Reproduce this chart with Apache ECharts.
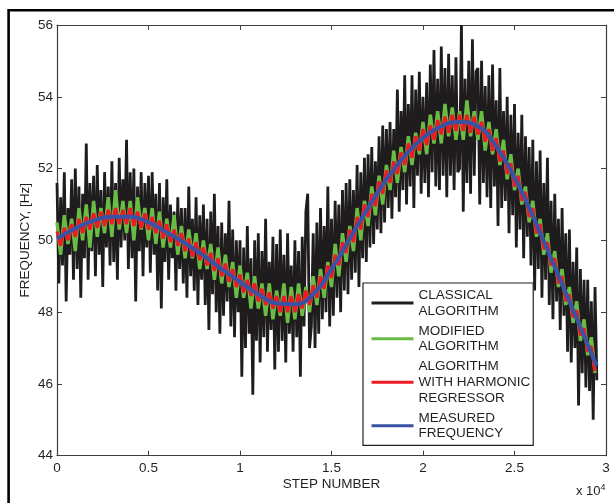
<!DOCTYPE html>
<html>
<head>
<meta charset="utf-8">
<script src="https://cdn.jsdelivr.net/npm/echarts@6/dist/echarts.min.js"></script>
<style>html,body{margin:0;padding:0;background:#fff;}#c{width:614px;height:503px;}</style>
</head>
<body>
<div id="c"></div>
<script>
// x values in units of 10^4 steps
var xTicks = ['0', '0.5', '1', '1.5', '2', '2.5', '3'];
var yTicks = ['44', '46', '48', '50', '52', '54', '56'];
var seriesNames = ['CLASSICAL ALGORITHM', 'MODIFIED ALGORITHM', 'ALGORITHM WITH HARMONIC REGRESSOR', 'MEASURED FREQUENCY'];
var legendLabels = ['CLASSICAL\nALGORITHM', 'MODIFIED\nALGORITHM', 'ALGORITHM\nWITH HARMONIC\nREGRESSOR', 'MEASURED\nFREQUENCY'];

// classical algorithm: sampled every 0.01 (x10^4)
var classicalStep = 0.01;
var classical = [
51.6,48.8,51.2,49.3,51.9,48.3,50.9,49.6,51.7,48.9,
52.0,49.2,51.5,48.4,51.3,49.5,52.7,48.9,51.6,49.7,
51.8,49.0,52.1,49.6,51.4,48.7,51.9,49.8,51.5,49.3,
52.2,49.4,51.6,48.9,52.3,49.8,51.7,50.0,52.8,49.2,
51.9,49.5,52.0,48.3,51.5,49.7,51.9,49.0,51.6,49.8,
51.8,49.1,51.9,49.6,51.3,48.6,51.6,48.1,51.2,49.4,
51.7,48.9,51.0,49.5,50.8,48.6,51.2,49.2,50.9,48.8,
50.9,48.4,51.5,49.0,50.6,48.6,51.2,48.2,50.7,48.9,
51.0,48.2,50.6,47.5,50.8,48.5,51.3,48.0,50.4,47.4,
50.5,47.9,50.2,48.3,51.1,47.6,50.3,47.3,50.0,48.0,
50.0,46.2,49.8,47.0,50.4,47.4,49.5,45.7,50.0,47.2,
50.2,46.6,49.7,47.3,50.6,46.9,49.4,47.5,50.1,46.4,
49.9,46.9,50.3,47.2,49.6,46.6,50.2,47.4,49.3,46.9,
50.0,47.3,49.7,46.2,50.1,47.6,50.8,51.3,47.0,47.6,
50.2,47.0,50.5,47.4,50.9,47.8,50.4,48.0,51.5,47.6,
50.6,47.9,51.1,48.4,51.0,48.0,51.4,48.6,51.6,48.5,
51.7,48.9,51.4,49.1,52.1,48.7,51.9,49.5,52.3,49.4,
52.4,49.8,52.6,49.9,52.2,50.3,52.9,50.2,53.2,50.5,
53.1,50.9,53.3,50.6,53.1,51.2,54.2,50.8,53.6,51.4,
54.6,51.0,53.8,51.5,54.6,50.9,54.2,51.8,54.7,51.3,
54.0,51.6,54.4,51.2,54.9,51.9,55.3,51.5,54.5,51.4,
55.4,51.8,54.8,51.2,55.2,51.8,54.6,51.4,55.1,51.9,
52.0,56.0,50.8,54.5,51.6,55.0,51.3,55.6,51.8,54.7,
54.8,51.0,55.0,51.6,54.3,51.2,54.6,50.9,54.9,51.5,
53.9,50.4,54.8,50.9,53.6,51.1,54.0,50.2,53.5,50.7,
53.8,49.8,53.0,50.3,53.5,49.5,52.9,50.1,52.6,49.3,
52.8,48.6,52.2,49.2,52.5,48.4,51.6,48.9,52.3,48.2,
51.1,47.8,51.3,48.3,50.6,47.5,50.9,47.9,50.2,46.9,
50.3,46.6,49.4,47.0,49.8,45.4,49.2,46.3,48.9,45.9,
48.9,45.8,48.3,45.0,48.7,46.1
];

// modified algorithm: sampled every 0.02 (x10^4)
var modifiedStep = 0.02;
var modified = [
50.5,49.6,50.7,49.9,50.6,49.7,50.9,50.0,51.0,49.8,
51.1,50.1,50.9,50.2,51.2,50.1,51.4,50.3,51.1,50.2,
51.1,50.0,51.2,50.3,50.9,50.0,50.9,49.9,50.8,49.8,
50.6,49.8,50.7,49.6,50.4,49.5,50.3,49.5,50.2,49.2,
50.0,49.2,49.9,48.9,49.8,48.8,49.6,48.7,49.4,48.4,
49.3,48.4,49.1,48.1,49.0,48.1,48.8,47.9,48.8,47.8,
48.6,47.9,48.8,47.7,48.7,47.8,48.8,47.9,48.7,48.0,
49.0,48.2,49.2,48.4,49.4,48.7,49.9,49.0,50.2,49.4,
50.4,49.7,50.9,50.0,51.1,50.4,51.5,50.7,51.8,51.0,
52.1,51.4,52.5,51.6,52.6,51.9,52.9,52.1,53.0,52.4,
53.3,52.4,53.5,52.7,53.6,52.7,53.8,52.9,53.7,52.8,
53.6,52.8,53.9,52.9,53.6,52.8,53.6,52.5,53.3,52.4,
53.1,52.1,52.8,51.7,52.4,51.4,52.0,51.0,51.5,50.5,
51.1,50.1,50.6,49.6,50.2,49.1,49.7,48.7,49.2,48.2,
48.7,47.7,48.3,47.2,47.8,46.8,47.3,46.3
];

// harmonic regressor: sampled every 0.02 (x10^4)
var regressorStep = 0.02;
var regressor = [
50.25,49.85,50.35,50.0,50.45,50.1,50.6,50.2,50.65,50.3,
50.75,50.35,50.8,50.4,50.85,50.45,50.9,50.45,50.85,50.45,
50.9,50.4,50.8,50.35,50.75,50.3,50.65,50.2,50.55,50.05,
50.45,49.95,50.3,49.85,50.2,49.7,50.05,49.55,49.95,49.45,
49.8,49.3,49.65,49.15,49.5,49.0,49.35,48.85,49.2,48.7,
49.05,48.55,48.9,48.45,48.8,48.3,48.65,48.2,48.55,48.1,
48.45,48.0,48.45,48.0,48.45,48.0,48.5,48.1,48.6,48.2,
48.75,48.4,49.0,48.65,49.3,48.95,49.6,49.3,49.95,49.65,
50.3,49.95,50.65,50.3,51.0,50.65,51.3,50.95,51.65,51.3,
51.95,51.6,52.2,51.85,52.45,52.1,52.7,52.3,52.9,52.5,
53.1,52.65,53.2,52.8,53.35,52.95,53.45,53.0,53.5,53.05,
53.5,53.05,53.5,53.0,53.45,52.95,53.3,52.75,53.1,52.5,
52.85,52.2,52.5,51.85,52.15,51.5,51.8,51.1,51.35,50.65,
50.9,50.2,50.45,49.75,49.95,49.3,49.5,48.8,49.0,48.3,
48.5,47.85,48.05,47.35,47.55,46.9,47.05,46.35
];

// measured frequency
var measuredX = [0,0.1,0.2,0.3,0.4,0.5,0.6,0.7,0.8,0.9,1.0,1.1,1.2,1.3,1.4,1.5,1.6,1.7,1.8,1.9,2.0,2.1,2.2,2.3,2.4,2.5,2.6,2.7,2.8,2.9,2.95];
var measuredY = [50.05,50.33,50.55,50.66,50.66,50.5,50.22,49.92,49.58,49.2,48.84,48.5,48.25,48.22,48.5,49.2,50.05,50.9,51.7,52.35,52.85,53.18,53.3,53.18,52.62,51.75,50.68,49.5,48.3,47.1,46.5];

function byStep(arr, step) {
  return arr.map(function (v, i) { return [+(i * step).toFixed(4), v]; });
}
function pairs(xs, ys) {
  return xs.map(function (x, i) { return [x, ys[i]]; });
}

var FONT = '"Liberation Sans", Arial, sans-serif';
var TXT = '#231f20';
var AX = '#3d3d3d';

var chart = echarts.init(document.getElementById('c'), null, {renderer: 'canvas'});

function xAx(pos, show) {
  return {
    type: 'value', position: pos, min: 0, max: 3, interval: 0.5,
    axisLine: {show: true, onZero: false, lineStyle: {color: AX, width: 1.2}},
    axisTick: {show: true, inside: true, length: 5, lineStyle: {color: AX, width: 1}},
    axisLabel: {show: show, color: TXT, fontFamily: FONT, fontSize: 13.5, margin: 6,
      formatter: function (v) { return xTicks[Math.round(v / 0.5)]; }},
    splitLine: {show: false},
    name: show ? 'STEP NUMBER' : '', nameLocation: 'middle', nameGap: 22, nameMoveOverlap: false,
    nameTextStyle: {color: TXT, fontFamily: FONT, fontSize: 13.5}
  };
}
function yAx(pos, show) {
  return {
    type: 'value', position: pos, min: 44, max: 56, interval: 2,
    axisLine: {show: true, onZero: false, lineStyle: {color: AX, width: 1.2}},
    axisTick: {show: true, inside: true, length: 5, lineStyle: {color: AX, width: 1}},
    axisLabel: {show: show, color: TXT, fontFamily: FONT, fontSize: 13.5, margin: 4,
      formatter: function (v) { return yTicks[Math.round((v - 44) / 2)]; }},
    splitLine: {show: false},
    name: show ? 'FREQUENCY, [Hz]' : '', nameLocation: 'middle', nameGap: 25, nameMoveOverlap: false,
    nameTextStyle: {color: TXT, fontFamily: FONT, fontSize: 13.5}
  };
}

var colors = ['#1f1c1d', '#69bd45', '#ed1c24', '#3953a4'];

chart.setOption({
  animation: false,
  backgroundColor: '#fff',
  grid: {left: 57, right: 8, top: 25, bottom: 47.3},
  xAxis: [xAx('bottom', true), xAx('top', false)],
  yAxis: [yAx('left', true), yAx('right', false)],
  legend: {
    orient: 'vertical', left: 363, top: 283,
    padding: [4.5, 3, 4, 8.5], itemGap: 4.5,
    itemWidth: 42, itemHeight: 3, icon: 'rect',
    backgroundColor: '#fff', borderColor: '#222', borderWidth: 1.2, borderRadius: 0,
    textStyle: {color: TXT, fontFamily: FONT, fontSize: 13.5, lineHeight: 15.6, padding: 0},
    data: seriesNames,
    formatter: function (n) { return legendLabels[seriesNames.indexOf(n)]; },
    selectedMode: false
  },
  series: [
    {name: seriesNames[0], type: 'line', data: byStep(classical, classicalStep), showSymbol: false, symbol: 'none',
     color: colors[0], lineStyle: {color: colors[0], width: 2.8}, z: 2},
    {name: seriesNames[1], type: 'line', data: byStep(modified, modifiedStep), showSymbol: false, symbol: 'none',
     color: colors[1], lineStyle: {color: colors[1], width: 3.4}, z: 3},
    {name: seriesNames[2], type: 'line', data: byStep(regressor, regressorStep), showSymbol: false, symbol: 'none',
     color: colors[2], lineStyle: {color: colors[2], width: 3.2}, z: 4},
    {name: seriesNames[3], type: 'line', data: pairs(measuredX, measuredY), showSymbol: false, symbol: 'none', smooth: true,
     color: colors[3], lineStyle: {color: colors[3], width: 4}, z: 5}
  ],
  graphic: [
    {type: 'rect', shape: {x: 8.6, y: 10.3, width: 800, height: 700}, style: {fill: 'none', stroke: '#000', lineWidth: 2.6}, silent: true},
    {type: 'text', left: 576, top: 483,
     style: {text: 'x 10{s|4}', fill: TXT, font: '13px ' + FONT,
       rich: {s: {fontSize: 9, fill: TXT, fontFamily: FONT, verticalAlign: 'top', padding: [0, 0, 8, 0]}}}}
  ]
});
</script>
</body>
</html>
